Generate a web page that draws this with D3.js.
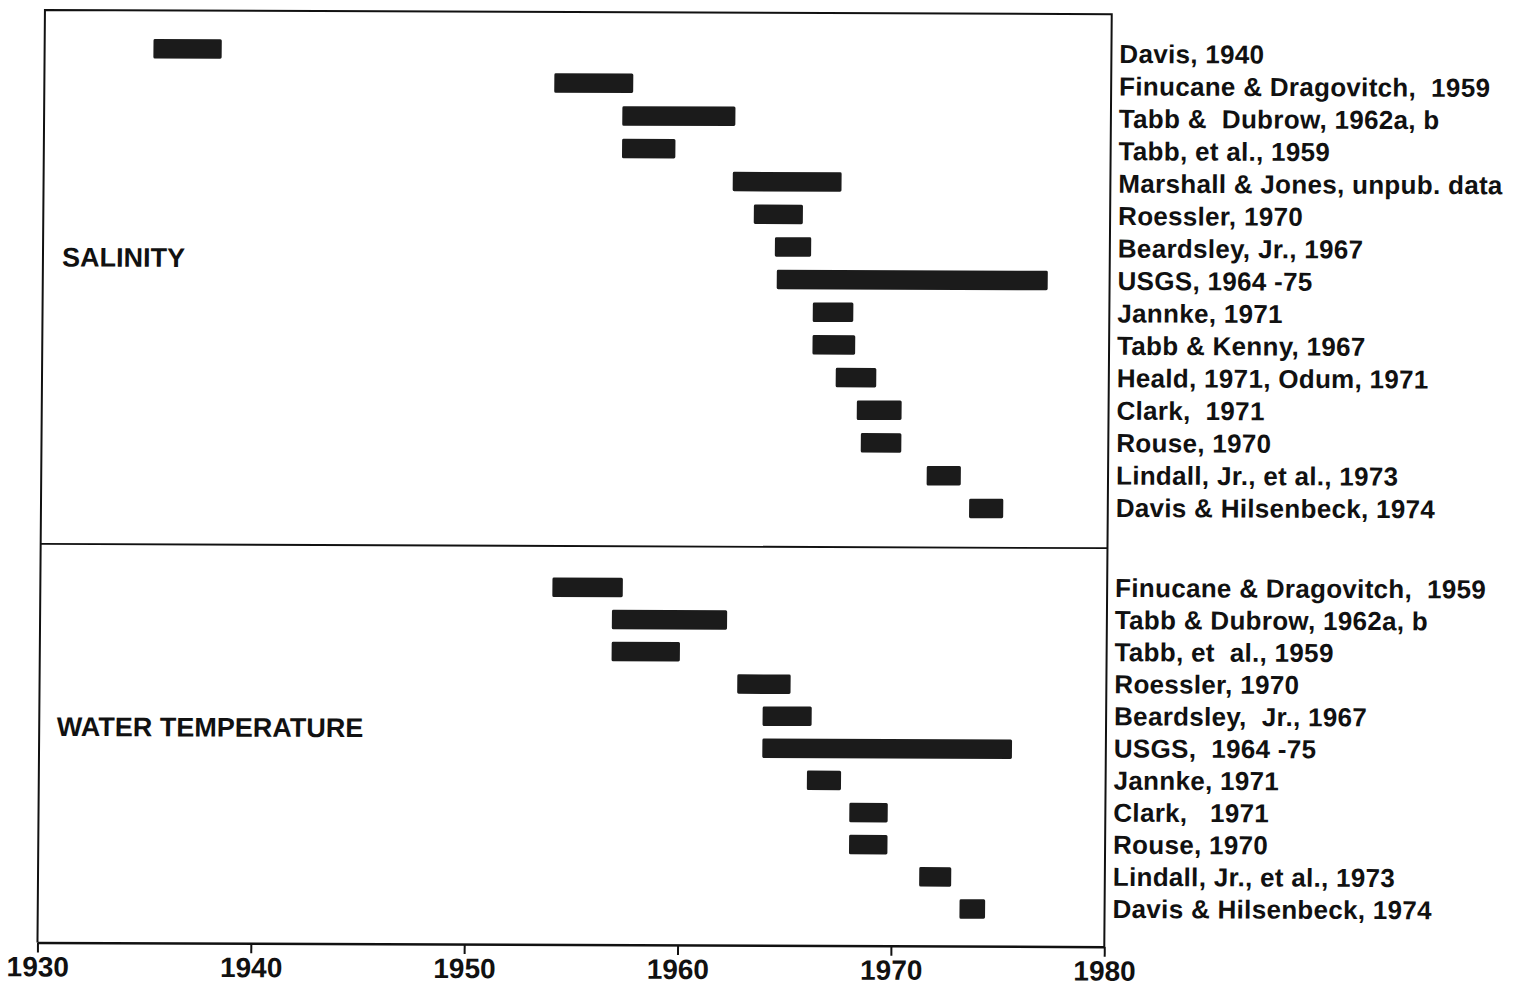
<!DOCTYPE html>
<html>
<head>
<meta charset="utf-8">
<script src="https://cdn.jsdelivr.net/npm/d3@7"></script>
<style>
  body { margin: 0; background: #fff; }
  svg { display: block; }
  .label { font-family: "Liberation Sans", Arial, sans-serif; font-weight: bold; font-size: 26px; letter-spacing: 0.3px; fill: #111; white-space: pre; }
  .panel-title { font-family: "Liberation Sans", Arial, sans-serif; font-weight: bold; font-size: 27px; fill: #111; }
  .tick-label { font-family: "Liberation Sans", Arial, sans-serif; font-weight: bold; font-size: 28px; fill: #111; }
</style>
</head>
<body>
<div id="chart"></div>
<script>
// salinity studies
const salinityLabels = [
  "Davis, 1940",
  "Finucane & Dragovitch,  1959",
  "Tabb &  Dubrow, 1962a, b",
  "Tabb, et al., 1959",
  "Marshall & Jones, unpub. data",
  "Roessler, 1970",
  "Beardsley, Jr., 1967",
  "USGS, 1964 -75",
  "Jannke, 1971",
  "Tabb & Kenny, 1967",
  "Heald, 1971, Odum, 1971",
  "Clark,  1971",
  "Rouse, 1970",
  "Lindall, Jr., et al., 1973",
  "Davis & Hilsenbeck, 1974"
];
const salinityStart = [1935.1, 1953.9, 1957.1, 1957.1, 1962.3, 1963.3, 1964.3, 1964.4, 1966.1, 1966.1, 1967.2, 1968.2, 1968.4, 1971.5, 1973.5];
const salinityEnd   = [1938.3, 1957.6, 1962.4, 1959.6, 1967.4, 1965.6, 1966.0, 1977.1, 1968.0, 1968.1, 1969.1, 1970.3, 1970.3, 1973.1, 1975.1];

// water temperature studies
const tempLabels = [
  "Finucane & Dragovitch,  1959",
  "Tabb & Dubrow, 1962a, b",
  "Tabb, et  al., 1959",
  "Roessler, 1970",
  "Beardsley,  Jr., 1967",
  "USGS,  1964 -75",
  "Jannke, 1971",
  "Clark,   1971",
  "Rouse, 1970",
  "Lindall, Jr., et al., 1973",
  "Davis & Hilsenbeck, 1974"
];
const tempStart = [1954.0, 1956.8, 1956.8, 1962.7, 1963.9, 1963.9, 1966.0, 1968.0, 1968.0, 1971.3, 1973.2];
const tempEnd   = [1957.3, 1962.2, 1960.0, 1965.2, 1966.2, 1975.6, 1967.6, 1969.8, 1969.8, 1972.8, 1974.4];

const years = [1930, 1940, 1950, 1960, 1970, 1980];

const width = 1522;
const height = 987;
const frameTop = 12, divider = 546, frameBottom = 944.5;

const svg = d3.select("#chart")
  .append("svg")
  .attr("width", width)
  .attr("height", height);

// the scanned page is slightly skewed
const g = svg.append("g").attr("transform", "matrix(1, 0.004, -0.008, 1, 3.84, -2.28)");

const xScale = d3.scaleLinear().domain([1930, 1980]).range([41.2, 1108]);

// bar rows and label baselines
const ySal = d3.scalePoint().domain(d3.range(salinityLabels.length)).range([50.5, 506.8]);
const ySalText = d3.scalePoint().domain(d3.range(salinityLabels.length)).range([60.8, 514.8]);
const yTemp = d3.scalePoint().domain(d3.range(tempLabels.length)).range([587.4, 907.4]);
const yTempText = d3.scalePoint().domain(d3.range(tempLabels.length)).range([594.8, 915.8]);

const barH = 19.5;

function drawPanel(labels, starts, ends, yScale, yText, title, titleX, titleY) {
  const rows = labels.map((name, i) => ({ name, i, start: starts[i], end: ends[i] }));

  g.append("g")
    .selectAll("rect")
    .data(rows)
    .join("rect")
    .attr("x", d => xScale(d.start))
    .attr("y", d => yScale(d.i) - barH / 2)
    .attr("width", d => xScale(d.end) - xScale(d.start))
    .attr("height", barH)
    .attr("rx", 1.5)
    .attr("fill", "#1b1b1b");

  g.append("g")
    .selectAll("text")
    .data(rows)
    .join("text")
    .attr("class", "label")
    .attr("x", xScale(1980) + 8)
    .attr("y", d => yText(d.i))
    .text(d => d.name);

  g.append("text")
    .attr("class", "panel-title")
    .attr("x", titleX)
    .attr("y", titleY)
    .text(title);
}

drawPanel(salinityLabels, salinityStart, salinityEnd, ySal, ySalText, "SALINITY", 60.3, 268.5);
drawPanel(tempLabels, tempStart, tempEnd, yTemp, yTempText, "WATER TEMPERATURE", 58.8, 738);

// frame
g.append("path")
  .attr("d", `M${xScale(1930)},${frameBottom} V${frameTop} H${xScale(1980)} V${frameBottom}`)
  .attr("fill", "none")
  .attr("stroke", "#111")
  .attr("stroke-width", 2);

g.append("line")
  .attr("x1", xScale(1930)).attr("x2", xScale(1980))
  .attr("y1", divider).attr("y2", divider)
  .attr("stroke", "#111")
  .attr("stroke-width", 1.8);

// x axis
const xAxis = d3.axisBottom(xScale)
  .tickValues(years)
  .tickFormat(d3.format("d"))
  .tickSizeInner(10)
  .tickSizeOuter(0)
  .tickPadding(4);

const axisG = g.append("g")
  .attr("transform", `translate(0, ${frameBottom})`)
  .call(xAxis);

axisG.select(".domain").attr("stroke", "#111").attr("stroke-width", 2.5);
axisG.selectAll(".tick line").attr("stroke", "#111").attr("stroke-width", 2);
axisG.selectAll(".tick text")
  .attr("class", "tick-label")
  .attr("y", 34)
  .attr("dy", 0);
</script>
</body>
</html>
